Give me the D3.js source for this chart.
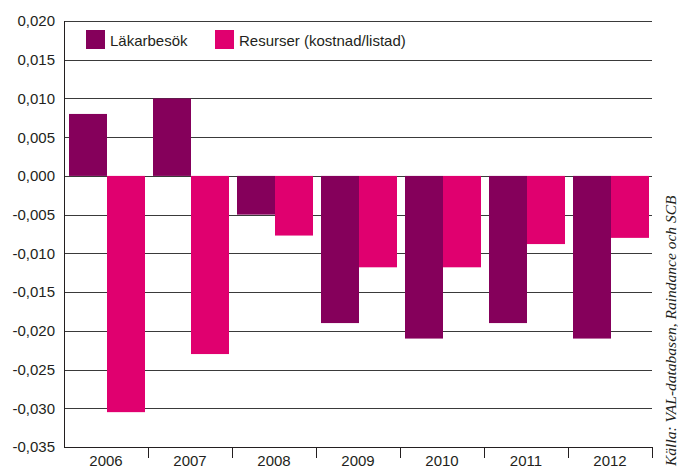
<!DOCTYPE html>
<html>
<head>
<meta charset="utf-8">
<script src="https://cdn.jsdelivr.net/npm/d3@7"></script>
<style>
  body { margin: 0; background: #fff; }
  svg text { font-family: "Liberation Sans", Arial, sans-serif; fill: #231f20; }
</style>
</head>
<body>
<script>
var years = ["2006", "2007", "2008", "2009", "2010", "2011", "2012"];
var lakarbesok = [0.008, 0.010, -0.005, -0.019, -0.021, -0.019, -0.021];
var resurser = [-0.0305, -0.023, -0.0077, -0.0118, -0.0118, -0.0088, -0.008];
var seriesNames = ["Läkarbesök", "Resurser (kostnad/listad)"];
var seriesColors = ["#85005b", "#e0006f"];
var yTicks = [0.020, 0.015, 0.010, 0.005, 0.000, -0.005, -0.010, -0.015, -0.020, -0.025, -0.030, -0.035];
var source = "Källa: VAL-databasen, Raindance och SCB";

var width = 678, height = 468;
var plotLeft = 64, plotRight = 652, plotTop = 21, plotBottom = 447;

var svg = d3.select("body").append("svg")
    .attr("width", width)
    .attr("height", height);

var y = d3.scaleLinear().domain([-0.035, 0.020]).range([plotBottom, plotTop]);
var x = d3.scaleBand().domain(years).range([plotLeft, plotRight]);
var inner = d3.scaleBand().domain([0, 1]).range([5, x.bandwidth() - 3]);

// gridlines
svg.append("g").selectAll("line")
  .data(yTicks.filter(function(d) { return d > -0.035; }))
  .enter().append("line")
    .attr("x1", plotLeft).attr("x2", plotRight)
    .attr("y1", function(d) { return Math.round(y(d)) + 0.5; })
    .attr("y2", function(d) { return Math.round(y(d)) + 0.5; })
    .attr("stroke", "#3a3a3a")
    .attr("stroke-width", 1);

// y labels
svg.append("g").selectAll("text")
  .data(yTicks)
  .enter().append("text")
    .attr("x", 55)
    .attr("y", function(d) { return y(d); })
    .attr("dy", "0.36em")
    .attr("text-anchor", "end")
    .style("font-size", "15px")
    .text(function(d) { return d3.format(".3f")(d).replace(".", ",").replace("−", "-"); });

// bars
var series = [lakarbesok, resurser];
series.forEach(function(vals, si) {
  svg.append("g").selectAll("rect")
    .data(vals)
    .enter().append("rect")
      .attr("x", function(d, i) { return x(years[i]) + inner(si); })
      .attr("width", inner.bandwidth())
      .attr("y", function(d) { return y(Math.max(0, d)); })
      .attr("height", function(d) { return Math.abs(y(d) - y(0)); })
      .attr("fill", seriesColors[si]);
});

// axis lines
svg.append("line")
  .attr("x1", plotLeft + 0.5).attr("x2", plotLeft + 0.5)
  .attr("y1", plotTop).attr("y2", plotBottom + 0.5)
  .attr("stroke", "#231f20");
svg.append("line")
  .attr("x1", plotLeft).attr("x2", plotRight + 0.5)
  .attr("y1", plotBottom + 0.5).attr("y2", plotBottom + 0.5)
  .attr("stroke", "#231f20");

// x tick marks between categories
svg.append("g").selectAll("line")
  .data(years.slice(1).concat(["end"]))
  .enter().append("line")
    .attr("x1", function(d) { return Math.round(d === "end" ? plotRight : x(d)) + 0.5; })
    .attr("x2", function(d) { return Math.round(d === "end" ? plotRight : x(d)) + 0.5; })
    .attr("y1", plotBottom).attr("y2", plotBottom + 11)
    .attr("stroke", "#231f20");

// x labels
svg.append("g").selectAll("text")
  .data(years)
  .enter().append("text")
    .attr("x", function(d) { return x(d) + x.bandwidth() / 2; })
    .attr("y", 466)
    .attr("text-anchor", "middle")
    .style("font-size", "15px")
    .text(function(d) { return d; });

// legend
var legendX = [86, 215];
seriesNames.forEach(function(name, i) {
  svg.append("rect")
    .attr("x", legendX[i]).attr("y", 30)
    .attr("width", 19).attr("height", 19)
    .attr("fill", seriesColors[i]);
  svg.append("text")
    .attr("x", legendX[i] + 24).attr("y", 45.5)
    .style("font-size", "15px")
    .text(name);
});

// source, rotated
svg.append("text")
  .attr("transform", "translate(676,466) rotate(-90)")
  .style("font-family", "'Liberation Serif', 'Times New Roman', serif")
  .style("font-style", "italic")
  .style("font-size", "15.5px")
  .text(source);
</script>
</body>
</html>
